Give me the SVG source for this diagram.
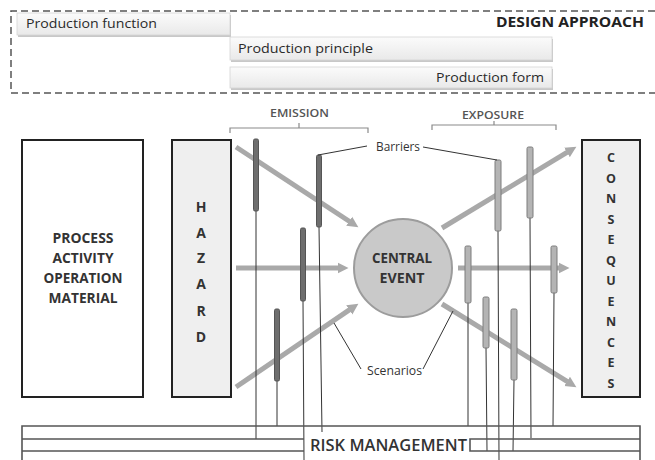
<svg xmlns="http://www.w3.org/2000/svg" width="655" height="460" viewBox="0 0 655 460">
  <style>
    text { font-family: "Open Sans", "Liberation Sans", sans-serif; fill: #333; }
    .bar { fill: url(#barFill); stroke: #d4d4d4; stroke-width: 0.8; }
    .barShadow { fill: #c8c8c8; }
    .bartxt { font-size: 13.5px; fill: #2a2a2a; }
    .hdr { font-size: 15px; font-weight: bold; fill: #222; }
    .phase { font-size: 11px; font-weight: 600; fill: #555; }
    .bracket { fill: none; stroke: #8a8a8a; stroke-width: 1.2; }
    .box { stroke: #222; stroke-width: 2; }
    .boxtxt { font-size: 13.5px; font-weight: bold; fill: #333; text-anchor: middle; }
    .vert { font-size: 14px; font-weight: bold; fill: #333; text-anchor: middle; }
    .vsm { font-size: 12.5px; }
    .flow { stroke: #a9a9a9; stroke-width: 5; fill: none; marker-end: url(#head); }
    .leg { stroke: #333; stroke-width: 1; fill: none; }
    .lead { stroke: #333; stroke-width: 1; fill: none; }
    .barE { fill: #6e6e6e; stroke: #555; stroke-width: 1; }
    .barX { fill: #b4b4b4; stroke: #7d7d7d; stroke-width: 1; }
    .note { font-size: 12px; fill: #333; }
    .rm { stroke: #555; stroke-width: 1.6; fill: none; }
  </style>
  <defs>
    <linearGradient id="barFill" x1="0" y1="0" x2="0" y2="1">
      <stop offset="0" stop-color="#fbfbfb"/>
      <stop offset="1" stop-color="#e9e9e9"/>
    </linearGradient>
    <marker id="head" markerUnits="userSpaceOnUse" markerWidth="12" markerHeight="12" refX="0.5" refY="6" orient="auto">
      <path d="M0,0.5 L11,6 L0,11.5 z" fill="#a9a9a9"/>
    </marker>
  </defs>

  <!-- design approach frame -->
  <g id="design-approach">
    <path d="M655,11 H11 V93 H655" fill="none" stroke="#555" stroke-width="1.5" stroke-dasharray="7 4"/>
    <text class="hdr" x="644" y="27" text-anchor="end" textLength="148" lengthAdjust="spacingAndGlyphs">DESIGN APPROACH</text>
  </g>
  <g id="production-function">
    <rect class="barShadow" x="18" y="15" width="213" height="22"/>
    <rect class="bar" x="17" y="13" width="213" height="22"/>
    <text class="bartxt" x="26" y="28" textLength="131" lengthAdjust="spacingAndGlyphs">Production function</text>
  </g>
  <g id="production-principle">
    <rect class="barShadow" x="231" y="39" width="322" height="23"/>
    <rect class="bar" x="230" y="37" width="322" height="23"/>
    <text class="bartxt" x="238" y="53" textLength="135" lengthAdjust="spacingAndGlyphs">Production principle</text>
  </g>
  <g id="production-form">
    <rect class="barShadow" x="231" y="69" width="322" height="21"/>
    <rect class="bar" x="230" y="67" width="322" height="21"/>
    <text class="bartxt" x="544" y="82" text-anchor="end" textLength="108" lengthAdjust="spacingAndGlyphs">Production form</text>
  </g>

  <!-- phase brackets -->
  <g id="emission">
    <text class="phase" x="270" y="117" textLength="59" lengthAdjust="spacingAndGlyphs">EMISSION</text>
    <path class="bracket" d="M230,133 V128 H368 V133 M299,128 V123"/>
  </g>
  <g id="exposure">
    <text class="phase" x="462" y="119" textLength="62" lengthAdjust="spacingAndGlyphs">EXPOSURE</text>
    <path class="bracket" d="M432,130 V125 H556 V130 M494,125 V121"/>
  </g>

  <!-- main blocks -->
  <g id="process">
    <rect class="box" x="22" y="140" width="121" height="257" fill="#fff"/>
    <text class="boxtxt" x="83" y="243" textLength="61" lengthAdjust="spacingAndGlyphs">PROCESS</text>
    <text class="boxtxt" x="83" y="263" textLength="61" lengthAdjust="spacingAndGlyphs">ACTIVITY</text>
    <text class="boxtxt" x="83" y="283" textLength="79" lengthAdjust="spacingAndGlyphs">OPERATION</text>
    <text class="boxtxt" x="83" y="303" textLength="69" lengthAdjust="spacingAndGlyphs">MATERIAL</text>
  </g>
  <g id="hazard">
    <rect class="box" x="172" y="140" width="59" height="257" fill="#efefef"/>
    <text class="vert" x="201" y="212">H</text>
    <text class="vert" x="201" y="238">A</text>
    <text class="vert" x="201" y="263">Z</text>
    <text class="vert" x="201" y="289">A</text>
    <text class="vert" x="201" y="316">R</text>
    <text class="vert" x="201" y="342">D</text>
  </g>
  <g id="consequences">
    <rect class="box" x="582" y="140" width="58" height="257" fill="#efefef"/>
    <text class="vert vsm" x="611" y="162">C</text>
    <text class="vert vsm" x="611" y="183">O</text>
    <text class="vert vsm" x="611" y="203">N</text>
    <text class="vert vsm" x="611" y="224">S</text>
    <text class="vert vsm" x="611" y="244">E</text>
    <text class="vert vsm" x="611" y="265">Q</text>
    <text class="vert vsm" x="611" y="285">U</text>
    <text class="vert vsm" x="611" y="306">E</text>
    <text class="vert vsm" x="611" y="326">N</text>
    <text class="vert vsm" x="611" y="347">C</text>
    <text class="vert vsm" x="611" y="367">E</text>
    <text class="vert vsm" x="611" y="388">S</text>
  </g>
  <g id="central-event">
    <circle cx="403" cy="268" r="49" fill="#c9c9c9" stroke="#9c9c9c" stroke-width="2"/>
    <text class="boxtxt" font-size="14.5" x="402" y="263" textLength="60" lengthAdjust="spacingAndGlyphs">CENTRAL</text>
    <text class="boxtxt" font-size="14.5" x="402" y="283" textLength="45" lengthAdjust="spacingAndGlyphs">EVENT</text>
  </g>

  <!-- scenario flows, barrier legs and bars -->
  <g id="connectors">
    <line class="flow" x1="236" y1="147" x2="349.6" y2="221.5"/>
    <line class="flow" x1="236" y1="268" x2="338" y2="268"/>
    <line class="flow" x1="236" y1="387" x2="349.7" y2="309.6"/>
    <line class="flow" x1="442" y1="228" x2="567.4" y2="152.2"/>
    <line class="flow" x1="458" y1="268" x2="559" y2="268"/>
    <line class="flow" x1="442" y1="304" x2="567.5" y2="381.7"/>

    <line class="leg" x1="256" y1="211" x2="256" y2="439"/>
    <line class="leg" x1="319" y1="227" x2="322" y2="432"/>
    <line class="leg" x1="303" y1="301" x2="304" y2="460"/>
    <line class="leg" x1="277" y1="381" x2="277" y2="426"/>
    <line class="leg" x1="498" y1="231" x2="499" y2="460"/>
    <line class="leg" x1="530" y1="218" x2="531" y2="438"/>
    <line class="leg" x1="468" y1="303" x2="468" y2="426"/>
    <line class="leg" x1="554" y1="293" x2="553" y2="426"/>
    <line class="leg" x1="486" y1="348" x2="487" y2="451"/>
    <line class="leg" x1="514" y1="380" x2="513" y2="451"/>

    <rect class="barE" x="253.5" y="139" width="5" height="72" rx="1.5"/>
    <rect class="barE" x="316.5" y="155" width="5" height="72" rx="1.5"/>
    <rect class="barE" x="300.5" y="228" width="5" height="73" rx="1.5"/>
    <rect class="barE" x="274.5" y="309" width="5" height="72" rx="1.5"/>
    <rect class="barX" x="495" y="160" width="6" height="71" rx="1.5"/>
    <rect class="barX" x="527" y="147" width="6" height="71" rx="1.5"/>
    <rect class="barX" x="465" y="246" width="6" height="57" rx="1.5"/>
    <rect class="barX" x="551" y="246" width="6" height="47" rx="1.5"/>
    <rect class="barX" x="483" y="297" width="6" height="51" rx="1.5"/>
    <rect class="barX" x="511" y="309" width="6" height="71" rx="1.5"/>

    <path class="lead" d="M367,146 L318,155"/>
    <path class="lead" d="M423,147 L497,160"/>
    <path class="lead" d="M361,369 L334,323"/>
    <path class="lead" d="M423,369 L453,311"/>
  </g>

  <g id="barriers-label">
    <text class="note" x="376" y="151" textLength="44" lengthAdjust="spacingAndGlyphs">Barriers</text>
  </g>
  <g id="scenarios-label">
    <text class="note" x="367" y="375" textLength="55" lengthAdjust="spacingAndGlyphs">Scenarios</text>
  </g>

  <!-- risk management rails -->
  <g id="risk-management">
    <path class="rm" d="M22,460 V426 H640 V460"/>
    <path class="rm" d="M22,439 H304 M22,451 H304"/>
    <path class="rm" d="M640,439 H470 V451 H640"/>
    <text x="310" y="451" font-size="16.5" font-weight="600" fill="#333" textLength="157" lengthAdjust="spacingAndGlyphs">RISK MANAGEMENT</text>
  </g>
</svg>
